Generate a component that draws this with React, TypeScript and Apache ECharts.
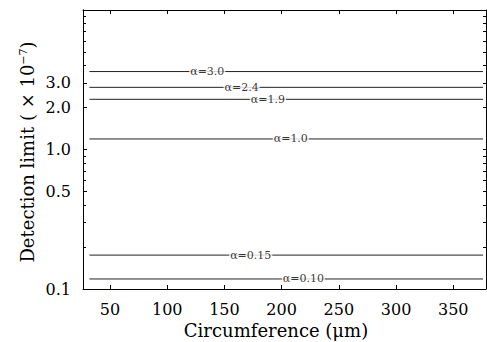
import React, { useEffect, useRef } from "react";
import * as echarts from "echarts";

const circumference = [32, 376];
const alphaNames = ["3.0", "2.4", "1.9", "1.0", "0.15", "0.10"];
const detectionLimits = [3.62, 2.79, 2.29, 1.19, 0.175, 0.118];
const labelPositions = [135, 165, 188, 208, 173, 219];
const xTicks = [50, 100, 150, 200, 250, 300, 350];
const yMajorTicks = [0.1, 0.5, 1.0, 2.0, 3.0];
const yMinorTicks = [0.2, 0.3, 0.4, 0.6, 0.7, 0.8, 0.9, 4, 5, 6, 7, 8, 9];

const FONT = "DejaVu Serif";
const lg = (v: number) => Math.log10(v);

export default function App() {
  const ref = useRef<HTMLDivElement>(null);
  useEffect(() => {
    if (!ref.current) return;
    const chart = echarts.init(ref.current, null, { renderer: "svg" });
    const axisLine = { show: true, onZero: false, lineStyle: { color: "#000", width: 1 } };
    const xBase = {
      type: "value" as const,
      min: 26.4,
      max: 378.6,
      splitLine: { show: false },
      axisLine,
    };
    const yBase = {
      type: "value" as const,
      min: -1,
      max: 1,
      splitLine: { show: false },
      axisLine,
    };
    const series: any[] = alphaNames.map((name, i) => ({
      type: "line",
      name: "α=" + name,
      xAxisIndex: 0,
      yAxisIndex: 0,
      showSymbol: false,
      symbol: "none",
      lineStyle: { color: "#222", width: 1 },
      data: circumference.map((c) => [c, lg(detectionLimits[i])]),
      z: 2,
    }));
    series.push({
      type: "scatter",
      xAxisIndex: 0,
      yAxisIndex: 0,
      symbolSize: 0,
      z: 5,
      data: alphaNames.map((name, i) => ({
        value: [labelPositions[i], lg(detectionLimits[i])],
        name: "α=" + name,
      })),
      label: {
        show: true,
        position: "inside",
        formatter: (p: any) => p.name,
        fontFamily: FONT,
        fontSize: 11,
        color: "#000",
        backgroundColor: "#fff",
        padding: [1, 1],
      },
    });
    chart.setOption({
      animation: false,
      backgroundColor: "#fff",
      grid: { left: 83, top: 10, right: 1, bottom: 53 },
      xAxis: [
        {
          ...xBase,
          position: "bottom",
          axisTick: { show: true, inside: true, length: 4, customValues: xTicks, lineStyle: { color: "#000" } },
          axisLabel: {
            show: true,
            customValues: xTicks,
            fontFamily: FONT,
            fontSize: 16,
            color: "#000",
            margin: 12,
          },
        },
        {
          ...xBase,
          position: "top",
          axisTick: { show: true, inside: true, length: 4, customValues: xTicks, lineStyle: { color: "#000" } },
          axisLabel: { show: false },
        },
      ],
      yAxis: [
        {
          ...yBase,
          position: "left",
          axisTick: {
            show: true,
            inside: true,
            length: 4,
            customValues: yMajorTicks.map(lg),
            lineStyle: { color: "#000" },
          },
          axisLabel: {
            show: true,
            customValues: yMajorTicks.map(lg),
            formatter: (v: number) => Math.pow(10, v).toFixed(1),
            fontFamily: FONT,
            fontSize: 16,
            color: "#000",
            margin: 12,
          },
        },
        {
          ...yBase,
          position: "left",
          axisTick: {
            show: true,
            inside: true,
            length: 3,
            customValues: yMinorTicks.map(lg),
            lineStyle: { color: "#000" },
          },
          axisLabel: { show: false },
        },
        {
          ...yBase,
          position: "right",
          axisTick: {
            show: true,
            inside: true,
            length: 3,
            customValues: [...yMajorTicks, ...yMinorTicks].map(lg),
            lineStyle: { color: "#000" },
          },
          axisLabel: { show: false },
        },
      ],
      graphic: [
        {
          type: "text",
          x: 276,
          y: 330,
          style: {
            text: "Circumference (μm)",
            fontFamily: FONT,
            fontSize: 18,
            fill: "#000",
            align: "center",
            verticalAlign: "middle",
          },
        },
        {
          type: "text",
          x: 27,
          y: 152,
          rotation: Math.PI / 2,
          style: {
            text: "Detection limit ( × 10{sup|−7})",
            fontFamily: FONT,
            fontSize: 18,
            fill: "#000",
            align: "center",
            verticalAlign: "middle",
            rich: {
              sup: { fontFamily: FONT, fontSize: 11, verticalAlign: "top", padding: [0, 0, 8, 0] },
            },
          },
        },
      ],
      series,
    });
    return () => chart.dispose();
  }, []);
  return <div ref={ref} style={{ width: 487, height: 342, position: "absolute", left: 0, top: 0 }} />;
}
